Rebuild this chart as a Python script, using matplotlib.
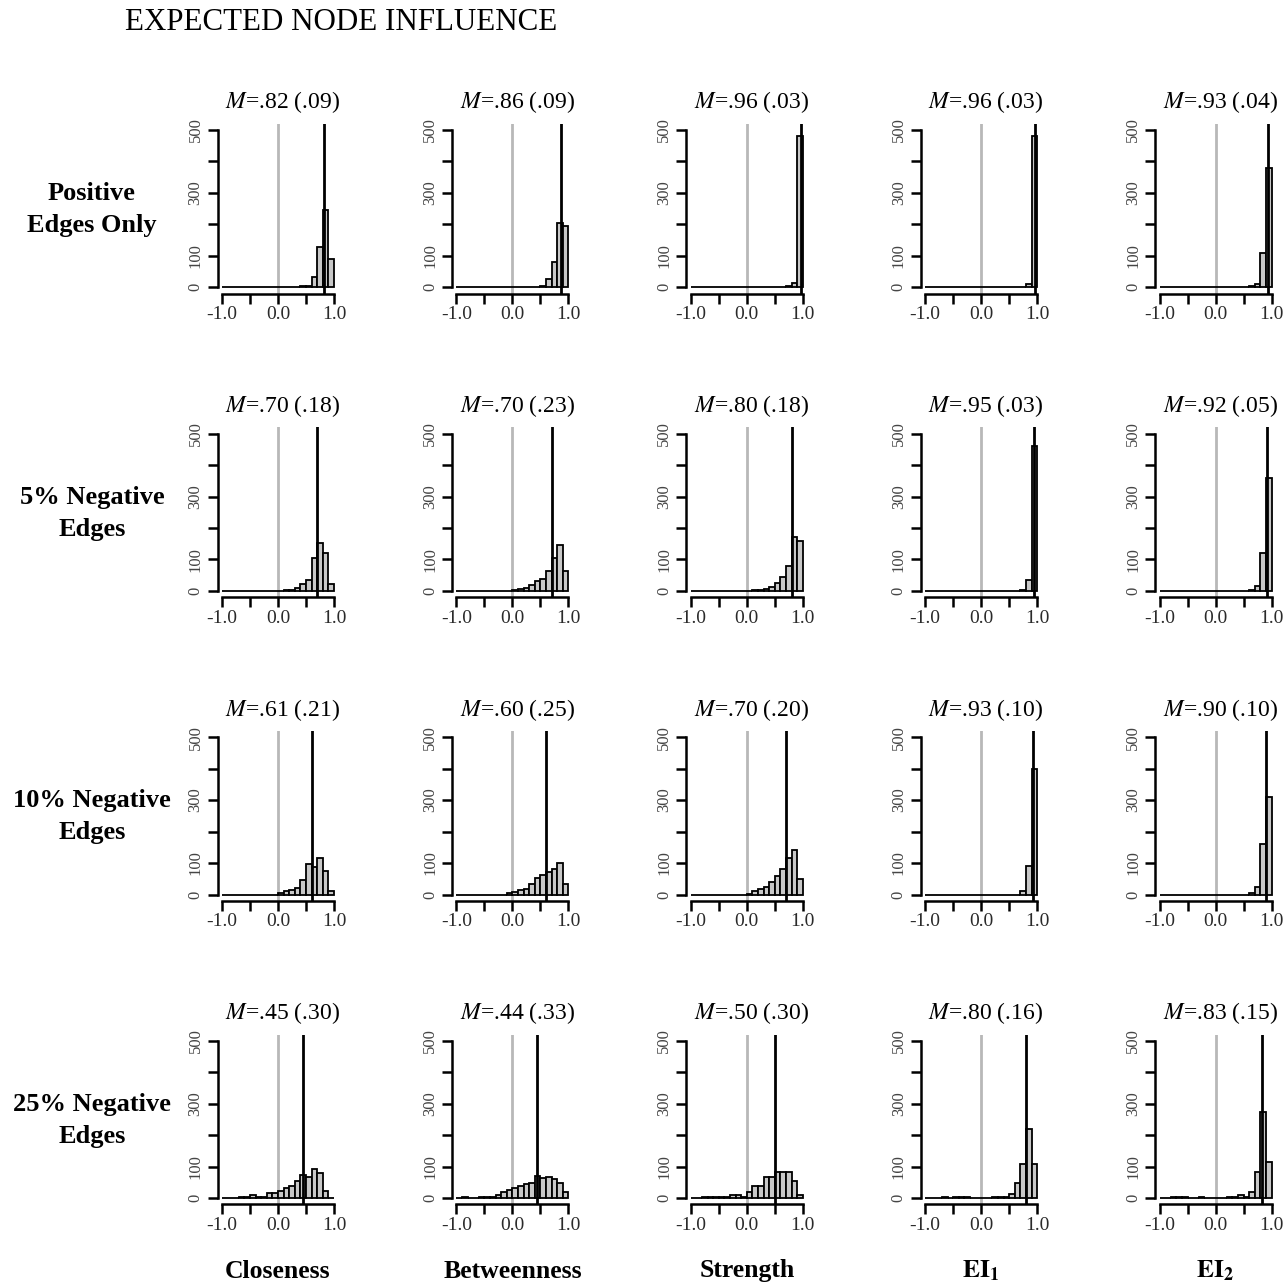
import numpy as np
import matplotlib
matplotlib.use("Agg")
import matplotlib.pyplot as plt

plt.rcParams['font.family'] = ['Liberation Serif', 'DejaVu Serif']
plt.rcParams['mathtext.fontset'] = 'stix'

# ---------------- data ----------------
bin_edges = [-1.0, -0.9, -0.8, -0.7, -0.6, -0.5, -0.4, -0.3, -0.2, -0.1, 0.0,
             0.1, 0.2, 0.3, 0.4, 0.5, 0.6, 0.7, 0.8, 0.9, 1.0]

row_labels = ["Positive\nEdges Only", "5% Negative\nEdges", "10% Negative\nEdges", "25% Negative\nEdges"]
col_labels = ["Closeness", "Betweenness", "Strength", r"$\mathbf{EI}_{\mathbf{1}}$", r"$\mathbf{EI}_{\mathbf{2}}$"]

means = [[.82, .86, .96, .96, .93],
         [.70, .70, .80, .95, .92],
         [.61, .60, .70, .93, .90],
         [.45, .44, .50, .80, .83]]
sds = [[".09", ".09", ".03", ".03", ".04"],
       [".18", ".23", ".18", ".03", ".05"],
       [".21", ".25", ".20", ".10", ".10"],
       [".30", ".33", ".30", ".16", ".15"]]

# counts per bin (20 bins of width .1 from -1 to 1)
pos_clo = [0, 0, 0, 0, 0, 0, 0, 0, 0, 0, 0, 0, 0, 0, 3, 5, 34, 129, 246, 90]
pos_bet = [0, 0, 0, 0, 0, 0, 0, 0, 0, 0, 0, 0, 0, 0, 2, 3, 25, 82, 205, 195]
pos_str = [0, 0, 0, 0, 0, 0, 0, 0, 0, 0, 0, 0, 0, 0, 0, 0, 0, 3, 15, 480]
pos_ei1 = [0, 0, 0, 0, 0, 0, 0, 0, 0, 0, 0, 0, 0, 0, 0, 0, 0, 2, 10, 482]
pos_ei2 = [0, 0, 0, 0, 0, 0, 0, 0, 0, 0, 0, 0, 0, 0, 0, 0, 3, 10, 110, 380]

n5_clo = [0, 0, 0, 0, 0, 0, 0, 0, 0, 0, 0, 2, 4, 10, 22, 35, 106, 151, 120, 21]
n5_bet = [0, 0, 0, 0, 0, 0, 0, 0, 0, 0, 2, 5, 10, 20, 32, 38, 64, 106, 147, 64]
n5_str = [0, 0, 0, 0, 0, 0, 0, 0, 0, 0, 0, 2, 3, 6, 12, 25, 45, 80, 170, 160]
n5_ei1 = [0, 0, 0, 0, 0, 0, 0, 0, 0, 0, 0, 0, 0, 0, 0, 0, 0, 3, 35, 460]
n5_ei2 = [0, 0, 0, 0, 0, 0, 0, 0, 0, 0, 0, 0, 0, 0, 0, 0, 3, 15, 120, 360]

n10_clo = [0, 0, 0, 0, 0, 0, 0, 0, 0, 0, 5, 11, 15, 21, 45, 96, 88, 116, 75, 11]
n10_bet = [0, 0, 0, 0, 0, 0, 0, 0, 0, 5, 7, 15, 17, 34, 51, 61, 70, 80, 100, 34]
n10_str = [0, 0, 0, 0, 0, 0, 0, 0, 0, 0, 3, 10, 18, 25, 40, 60, 80, 115, 143, 50]
n10_ei1 = [0, 0, 0, 0, 0, 0, 0, 0, 0, 0, 0, 0, 0, 0, 0, 0, 0, 10, 90, 400]
n10_ei2 = [0, 0, 0, 0, 0, 0, 0, 0, 0, 0, 0, 0, 0, 0, 0, 0, 5, 25, 159, 310]

n25_clo = [0, 0, 0, 4, 5, 10, 5, 5, 16, 16, 22, 32, 38, 55, 74, 68, 92, 81, 23, 0]
n25_bet = [0, 3, 0, 0, 3, 3, 3, 10, 18, 26, 32, 37, 44, 47, 70, 63, 68, 61, 49, 18]
n25_str = [0, 0, 3, 3, 3, 3, 3, 10, 10, 3, 20, 40, 37, 68, 68, 82, 82, 82, 53, 10]
n25_ei1 = [0, 0, 0, 4, 0, 3, 3, 3, 0, 0, 0, 0, 3, 3, 3, 12, 49, 107, 219, 107]
n25_ei2 = [0, 0, 3, 3, 3, 0, 0, 3, 0, 0, 0, 0, 3, 5, 10, 5, 20, 82, 274, 116]

counts = [[pos_clo, pos_bet, pos_str, pos_ei1, pos_ei2],
          [n5_clo, n5_bet, n5_str, n5_ei1, n5_ei2],
          [n10_clo, n10_bet, n10_str, n10_ei1, n10_ei2],
          [n25_clo, n25_bet, n25_str, n25_ei1, n25_ei2]]

yticks = [0, 100, 200, 300, 400, 500]
ytick_labels = ["0", "100", "", "300", "", "500"]
xticks = [-1.0, -0.5, 0.0, 0.5, 1.0]
xtick_labels = ["-1.0", "", "0.0", "", "1.0"]

# ---------------- figure ----------------
W, H = 1288, 1283
fig = plt.figure(figsize=(W / 100, H / 100), dpi=100)
fig.patch.set_facecolor("white")

edges = np.array(bin_edges)
lefts = edges[:-1]
widths = np.diff(edges)

for r in range(4):
    top_px = 123.7 + 303.6 * r
    bot_px = 293.6 + 303.6 * r
    for c in range(5):
        cx = 278 + 234.4 * c
        left_px = cx - 60.5
        ax = fig.add_axes([left_px / W, 1 - bot_px / H, 121 / W, (bot_px - top_px) / H])
        ax.set_xlim(-1.08, 1.08)
        ax.set_ylim(-20, 520)
        ax.bar(lefts, counts[r][c], width=widths, align='edge', color="#c8c8c8",
               edgecolor="black", linewidth=1.3, zorder=2)
        ax.axvline(0.0, color="#b8b8b8", linewidth=2.0, zorder=1)
        ax.axvline(means[r][c], color="black", linewidth=2.0, zorder=3)
        for s in ["top", "right"]:
            ax.spines[s].set_visible(False)
        ax.spines["left"].set_bounds(0, 500)
        ax.spines["bottom"].set_bounds(-1, 1)
        ax.spines["left"].set_linewidth(1.8)
        ax.spines["bottom"].set_linewidth(1.8)
        ax.set_xticks(xticks)
        ax.set_xticklabels(xtick_labels, fontsize=14, color="#2a2a2a")
        ax.set_yticks(yticks)
        ax.set_yticklabels(ytick_labels, rotation=90, va="center", fontsize=12, color="#444444")
        ax.tick_params(axis="both", length=7, width=1.8, direction="out")
        ax.tick_params(axis="x", pad=2)
        ax.tick_params(axis="y", pad=3)
        ax.patch.set_alpha(0)
        ax.set_title(r"$M$=" + ("%.2f" % means[r][c])[1:] + " (" + sds[r][c] + ")",
                     fontsize=17, pad=11, x=0.54)
        if c == 0:
            fig.text(92 / W, 1 - ((top_px + bot_px) / 2 + 1) / H, row_labels[r], ha="center",
                     va="center", fontsize=19, fontweight="bold", linespacing=1.5)
        if r == 3:
            fig.text(cx / W, 1 - 1271 / H, col_labels[c], ha="center", va="center",
                     fontsize=18.5, fontweight="bold")

fig.text(125 / W, 1 - 23 / H, "EXPECTED NODE INFLUENCE", ha="left", va="center", fontsize=22.3)

fig.savefig("out.png", dpi=100, facecolor="white")
